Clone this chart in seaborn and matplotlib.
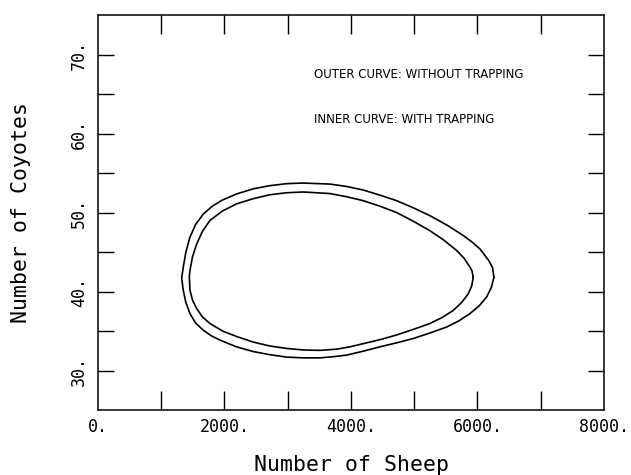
import pandas as pd
import matplotlib
matplotlib.use('Agg')
import matplotlib.pyplot as plt
import seaborn as sns

# Krivky (ovce, kojoti)
outer_sheep = [6261, 6240, 6182, 6039, 5910, 5775, 5520, 5249, 4985, 4722,
               4458, 4194, 3930, 3668, 3246, 2980, 2719, 2455, 2193, 1960,
               1800, 1665, 1545, 1455, 1390, 1349, 1323, 1349, 1390, 1455,
               1545, 1665, 1790, 1929, 2190, 2455, 2720, 2983, 3250, 3510,
               3720, 3932, 4195, 4458, 4720, 4985, 5250, 5513, 5710, 5881,
               6030, 6145, 6220, 6261]
outer_coyotes = [41.8, 43.0, 43.9, 45.4, 46.3, 47.1, 48.4, 49.6, 50.6, 51.5,
                 52.2, 52.85, 53.3, 53.6, 53.73, 53.65, 53.4, 53.0, 52.35, 51.55,
                 50.75, 49.8, 48.5, 46.9, 45.0, 43.1, 41.7, 40.15, 38.6, 37.2,
                 36.0, 35.1, 34.4, 33.85, 33.0, 32.4, 32.0, 31.7, 31.6, 31.6,
                 31.75, 31.95, 32.45, 33.0, 33.5, 34.05, 34.75, 35.5, 36.3, 37.2,
                 38.2, 39.3, 40.5, 41.8]

inner_sheep = [5934, 5915, 5881, 5790, 5671, 5470, 5249, 4985, 4722, 4458,
               4194, 3930, 3668, 3246, 2980, 2719, 2455, 2193, 1970, 1771,
               1650, 1560, 1495, 1455, 1444, 1455, 1495, 1560, 1650, 1771,
               1970, 2193, 2455, 2719, 2980, 3246, 3510, 3774, 3985, 4194,
               4458, 4722, 4985, 5249, 5440, 5617, 5750, 5854, 5910, 5934]
inner_coyotes = [41.8, 42.6, 43.1, 44.2, 45.2, 46.5, 47.7, 48.9, 50.0, 50.8,
                 51.5, 52.0, 52.4, 52.6, 52.5, 52.25, 51.75, 51.1, 50.2, 49.0,
                 47.6, 46.0, 44.4, 42.7, 41.9, 40.15, 38.9, 37.85, 36.8, 35.95,
                 35.0, 34.3, 33.6, 33.1, 32.8, 32.6, 32.55, 32.7, 33.0, 33.4,
                 33.9, 34.5, 35.2, 35.95, 36.7, 37.6, 38.6, 39.7, 40.7, 41.8]

x_ticks = [0, 1000, 2000, 3000, 4000, 5000, 6000, 7000, 8000]
x_labels = ['0.', '', '2000.', '', '4000.', '', '6000.', '', '8000.']
y_ticks = [30, 35, 40, 45, 50, 55, 60, 65, 70]
y_labels = ['30.', '', '40.', '', '50.', '', '60.', '', '70.']

df = pd.concat([
    pd.DataFrame({'sheep': outer_sheep, 'coyotes': outer_coyotes, 'curve': 'outer'}),
    pd.DataFrame({'sheep': inner_sheep, 'coyotes': inner_coyotes, 'curve': 'inner'}),
])

sns.set_style('white')
plt.rcParams['font.family'] = ['DejaVu Sans Mono', 'DejaVu Sans']
plt.rcParams['text.color'] = 'black'
plt.rcParams['axes.labelcolor'] = 'black'

fig = plt.figure(figsize=(6.31, 4.75), dpi=100)
ax = fig.add_axes([0.1553, 0.1368, 0.8017, 0.8316])

sns.lineplot(data=df, x='sheep', y='coyotes', units='curve', estimator=None,
             sort=False, color='black', linewidth=1.2, ax=ax)

ax.set_xlim(0, 8000)
ax.set_ylim(25, 75)
ax.set_xticks(x_ticks)
ax.set_xticklabels(x_labels, fontsize=12)
ax.set_yticks(y_ticks)
ax.set_yticklabels(y_labels, fontsize=12, rotation=90, va='center')
ax.tick_params(axis='x', direction='in', length=14, width=1.0, top=True,
               bottom=True, pad=6, colors='black')
ax.tick_params(axis='y', direction='in', length=11.5, width=1.0, left=True,
               right=True, pad=7, colors='black')
# krajni znacky na ose x nejsou videt
for t in [ax.xaxis.get_major_ticks()[0], ax.xaxis.get_major_ticks()[-1]]:
    t.tick1line.set_visible(False)
    t.tick2line.set_visible(False)
for s in ax.spines.values():
    s.set_color('black')
    s.set_linewidth(1.1)

ax.set_xlabel('Number of Sheep', fontsize=15.5, color='black')
ax.set_ylabel('Number of Coyotes', fontsize=15.5, color='black')
ax.xaxis.set_label_coords(0.502, -0.139)
ax.xaxis.label.set_va('center')
ax.yaxis.set_label_coords(-0.152, 0.5)
ax.yaxis.label.set_va('center')

ax.text(5075, 67.5, 'OUTER CURVE: WITHOUT TRAPPING', family='DejaVu Sans',
        fontsize=8.5, va='center', ha='center', color='black')
ax.text(4838, 61.8, 'INNER CURVE: WITH TRAPPING', family='DejaVu Sans',
        fontsize=8.5, va='center', ha='center', color='black')

fig.savefig('out.png', dpi=100)
